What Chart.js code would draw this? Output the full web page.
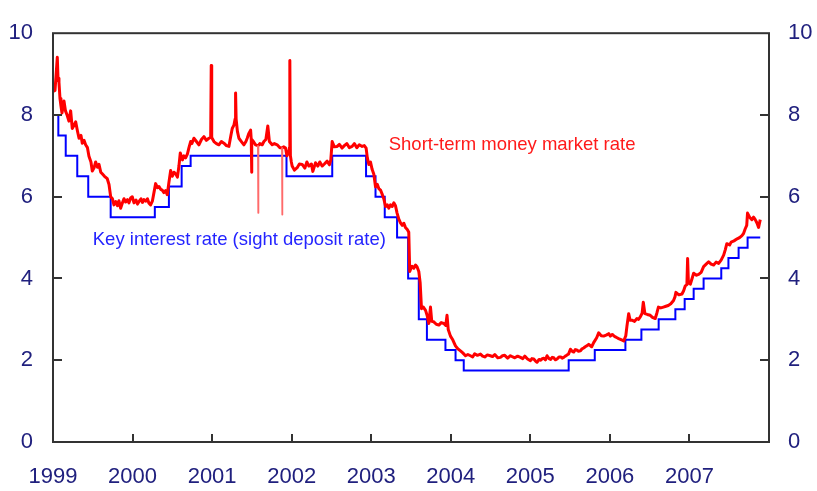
<!DOCTYPE html>
<html>
<head>
<meta charset="utf-8">
<script src="https://cdn.jsdelivr.net/npm/chart.js@4/dist/chart.umd.min.js"></script>
<style>
html,body{margin:0;padding:0;background:#fff;}
#c{display:block;}
</style>
</head>
<body>
<canvas id="c" width="817" height="491"></canvas>
<script>
// ---- Data (decimal years) ----
const yearTicks = [1999, 2000, 2001, 2002, 2003, 2004, 2005, 2006, 2007];
const rateTicks = [0, 2, 4, 6, 8, 10];

// Key interest rate (sight deposit rate): dates of change and new level
const keyDates = [1999.00, 1999.067, 1999.16, 1999.305, 1999.443, 1999.725, 2000.28, 2000.457, 2000.617, 2000.73,
  2001.935, 2002.51, 2002.935, 2003.054, 2003.17, 2003.325, 2003.464, 2003.598, 2003.70, 2003.933, 2004.06, 2004.163,
  2005.482, 2005.81, 2006.195, 2006.396, 2006.613, 2006.823, 2006.94, 2007.053, 2007.178, 2007.40, 2007.49, 2007.618, 2007.731, 2007.89];
const keyRates = [8.0, 7.5, 7.0, 6.5, 6.0, 5.5, 5.75, 6.25, 6.75, 7.0,
  6.5, 7.0, 6.5, 6.0, 5.5, 5.0, 4.0, 3.0, 2.5, 2.25, 2.0, 1.75,
  2.0, 2.25, 2.5, 2.75, 3.0, 3.25, 3.5, 3.75, 4.0, 4.25, 4.5, 4.75, 5.0, 5.0];

// Short-term money market rate
const mmDates = [
 1999.000,1999.013,1999.025,1999.038,1999.054,1999.063,1999.075,1999.088,1999.100,1999.113,
 1999.138,1999.157,1999.180,1999.200,1999.222,1999.242,1999.264,1999.285,1999.308,1999.327,
 1999.352,1999.368,1999.390,1999.410,1999.433,1999.452,1999.477,1999.494,1999.515,1999.536,
 1999.559,1999.578,1999.600,1999.619,1999.647,1999.682,1999.704,1999.725,1999.747,1999.766,
 1999.788,1999.810,1999.829,1999.850,1999.873,1999.892,1999.913,1999.936,1999.955,1999.976,
 1999.996,2000.018,2000.043,2000.062,2000.080,2000.106,2000.124,2000.143,2000.165,2000.187,
 2000.206,2000.227,2000.250,2000.269,2000.290,2000.313,2000.332,2000.353,2000.373,2000.394,
 2000.416,2000.436,2000.457,2000.479,2000.500,2000.520,2000.541,2000.564,2000.583,2000.600,
 2000.627,2000.646,2000.667,2000.690,2000.709,2000.730,2000.746,2000.771,2000.803,2000.834,
 2000.866,2000.897,2000.928,2000.960,2000.982,2000.989,2000.995,2001.023,2001.054,2001.085,
 2001.117,2001.148,2001.180,2001.211,2001.236,2001.253,2001.274,2001.289,2001.295,2001.302,
 2001.318,2001.337,2001.368,2001.400,2001.425,2001.441,2001.462,2001.484,2001.492,2001.496,
 2001.500,2001.519,2001.546,2001.575,2001.579,2001.583,2001.600,2001.630,2001.651,2001.676,
 2001.700,2001.720,2001.755,2001.783,2001.818,2001.852,2001.877,2001.881,2001.884,2001.902,
 2001.923,2001.940,2001.965,2001.972,2001.977,2001.984,2001.996,2002.006,2002.034,2002.069,
 2002.097,2002.132,2002.166,2002.191,2002.216,2002.248,2002.266,2002.300,2002.329,2002.354,
 2002.383,2002.411,2002.446,2002.474,2002.492,2002.509,2002.536,2002.572,2002.600,2002.634,
 2002.662,2002.693,2002.725,2002.760,2002.788,2002.819,2002.850,2002.886,2002.913,2002.936,
 2002.951,2002.970,2002.991,2003.011,2003.033,2003.054,2003.077,2003.095,2003.117,2003.140,
 2003.158,2003.180,2003.202,2003.221,2003.242,2003.263,2003.284,2003.305,2003.325,2003.347,
 2003.368,2003.390,2003.410,2003.430,2003.453,2003.472,2003.484,2003.500,2003.514,2003.535,
 2003.557,2003.577,2003.598,2003.615,2003.632,2003.655,2003.683,2003.702,2003.724,2003.745,
 2003.761,2003.786,2003.818,2003.850,2003.880,2003.912,2003.937,2003.953,2003.968,2003.996,
 2004.025,2004.059,2004.088,2004.122,2004.151,2004.185,2004.215,2004.247,2004.275,2004.300,
 2004.335,2004.373,2004.400,2004.427,2004.460,2004.498,2004.525,2004.553,2004.590,2004.624,
 2004.650,2004.678,2004.715,2004.750,2004.780,2004.804,2004.840,2004.876,2004.905,2004.930,
 2004.965,2005.001,2005.020,2005.043,2005.065,2005.084,2005.110,2005.130,2005.150,2005.168,
 2005.190,2005.210,2005.235,2005.256,2005.275,2005.294,2005.315,2005.336,2005.360,2005.382,
 2005.400,2005.420,2005.440,2005.457,2005.480,2005.504,2005.525,2005.545,2005.565,2005.583,
 2005.605,2005.630,2005.650,2005.670,2005.690,2005.709,2005.734,2005.771,2005.796,2005.834,
 2005.859,2005.891,2005.922,2005.960,2005.985,2006.006,2006.030,2006.048,2006.070,2006.090,
 2006.110,2006.133,2006.155,2006.174,2006.200,2006.214,2006.236,2006.254,2006.277,2006.310,
 2006.340,2006.360,2006.382,2006.405,2006.420,2006.440,2006.470,2006.507,2006.535,2006.570,
 2006.590,2006.610,2006.640,2006.673,2006.704,2006.734,2006.766,2006.800,2006.818,2006.830,
 2006.867,2006.906,2006.927,2006.948,2006.968,2006.977,2006.987,2007.011,2007.033,2007.053,
 2007.084,2007.116,2007.147,2007.178,2007.210,2007.241,2007.272,2007.304,2007.335,2007.367,
 2007.398,2007.430,2007.450,2007.470,2007.505,2007.524,2007.560,2007.600,2007.630,2007.660,
 2007.680,2007.700,2007.720,2007.730,2007.756,2007.785,2007.806,2007.827,2007.850,2007.869,
 2007.890];
const mmRates = [
 8.55,8.75,8.60,8.95,9.41,8.90,8.80,8.40,8.22,8.05,
 8.34,8.10,7.98,7.85,8.10,7.67,7.75,7.83,7.60,7.43,
 7.50,7.31,7.38,7.27,7.20,6.99,6.85,6.63,6.70,6.85,
 6.72,6.79,6.60,6.56,6.50,6.44,6.30,6.00,5.95,5.80,
 5.88,5.78,5.90,5.72,5.85,5.95,5.87,5.93,5.85,5.97,
 6.00,5.85,5.92,5.82,5.88,5.95,5.86,5.93,5.89,5.95,
 5.84,5.80,5.90,6.10,6.32,6.22,6.25,6.18,6.16,6.10,
 6.15,6.05,6.35,6.64,6.50,6.60,6.56,6.48,6.75,7.07,
 6.90,7.00,6.95,7.05,7.20,7.35,7.30,7.43,7.35,7.27,
 7.40,7.47,7.38,7.43,7.45,9.21,7.45,7.35,7.30,7.27,
 7.35,7.31,7.25,7.23,7.50,7.67,7.75,7.90,8.54,7.90,
 7.60,7.43,7.35,7.27,7.35,7.43,7.55,7.63,7.40,6.60,
 7.40,7.35,7.27,7.25,5.60,7.25,7.30,7.27,7.35,7.40,
 7.73,7.35,7.27,7.30,7.27,7.20,7.20,5.56,7.20,7.22,
 7.19,7.00,7.10,7.20,9.33,7.00,6.85,6.75,6.65,6.71,
 6.80,6.79,6.70,6.85,6.75,6.80,6.62,6.83,6.75,6.85,
 6.75,6.80,6.87,6.78,6.90,7.35,7.22,7.23,7.28,7.19,
 7.25,7.30,7.20,7.23,7.30,7.20,7.27,7.23,7.25,7.19,
 6.95,6.79,6.85,6.67,6.55,6.24,6.30,6.20,6.16,6.05,
 5.95,5.76,5.80,5.72,5.80,5.76,5.85,5.78,5.60,5.45,
 5.36,5.30,5.35,5.25,5.20,5.13,4.17,4.25,4.30,4.25,
 4.33,4.28,4.17,3.90,3.26,3.30,3.22,3.10,2.90,3.30,
 2.95,2.94,2.88,2.86,2.92,2.90,2.85,3.10,2.75,2.59,
 2.50,2.35,2.28,2.23,2.18,2.11,2.14,2.11,2.08,2.16,
 2.12,2.15,2.10,2.08,2.13,2.11,2.09,2.14,2.06,2.07,
 2.11,2.12,2.05,2.11,2.08,2.06,2.10,2.07,2.04,2.10,
 2.03,1.99,2.04,2.03,1.98,1.95,2.02,2.00,2.04,2.05,
 2.01,2.11,2.04,2.02,2.07,2.06,2.01,2.03,2.08,2.08,
 2.05,2.07,2.10,2.12,2.15,2.27,2.22,2.20,2.26,2.25,
 2.22,2.23,2.28,2.30,2.33,2.35,2.39,2.33,2.43,2.55,
 2.67,2.60,2.59,2.62,2.65,2.59,2.63,2.60,2.57,2.55,
 2.53,2.51,2.49,2.47,2.60,2.83,3.14,2.98,2.98,2.95,
 3.02,3.00,3.06,3.15,3.42,3.14,3.12,3.10,3.05,3.02,
 3.15,3.30,3.28,3.30,3.32,3.34,3.38,3.46,3.55,3.66,
 3.60,3.62,3.70,3.82,3.85,4.49,3.90,3.86,4.00,4.13,
 4.08,4.10,4.15,4.29,4.35,4.41,4.35,4.33,4.40,4.37,
 4.45,4.57,4.70,4.85,4.82,4.89,4.92,4.97,5.00,5.05,
 5.10,5.21,5.30,5.60,5.50,5.44,5.50,5.44,5.35,5.25,
 5.44];

const mmLabel = 'Short-term money market rate';
const keyLabel = 'Key interest rate (sight deposit rate)';

// ---- Chart ----
const tickFont = { family: '"Liberation Sans", Arial, sans-serif', size: 22 };
const tickColor = '#20207e';
const frameColor = '#333333';

const decor = {
  id: 'decor',
  afterDatasetsDraw(chart) {
    const { ctx, chartArea: a, scales } = chart;
    const x = scales.x, y = scales.y;
    ctx.save();
    ctx.strokeStyle = frameColor;
    ctx.lineWidth = 2;
    ctx.strokeRect(a.left, a.top, a.right - a.left, a.bottom - a.top);
    ctx.beginPath();
    yearTicks.forEach(v => {
      if (v === x.min) return;
      const px = Math.round(x.getPixelForValue(v));
      ctx.moveTo(px, a.bottom);
      ctx.lineTo(px, a.bottom - 8);
    });
    rateTicks.forEach(v => {
      if (v === y.min || v === y.max) return;
      const py = Math.round(y.getPixelForValue(v));
      ctx.moveTo(a.left, py); ctx.lineTo(a.left + 9, py);
      ctx.moveTo(a.right, py); ctx.lineTo(a.right - 9, py);
    });
    ctx.stroke();
    // series labels
    ctx.font = '18.5px "Liberation Sans", Arial, sans-serif';
    ctx.textBaseline = 'alphabetic';
    ctx.textAlign = 'left';
    ctx.fillStyle = '#ff1a1a';
    ctx.fillText(mmLabel, x.getPixelForValue(2003.22), y.getPixelForValue(7.14));
    ctx.fillStyle = '#2424ff';
    ctx.fillText(keyLabel, x.getPixelForValue(1999.5), y.getPixelForValue(4.81));
    ctx.restore();
  }
};

const isThinSpike = c => {
  const a = c.p0.parsed.y, b = c.p1.parsed.y;
  return Math.abs(b - a) > 1.2 && Math.max(a, b) < 8 && Math.min(a, b) < 6;
};

new Chart(document.getElementById('c'), {
  type: 'line',
  data: {
    datasets: [
      {
        label: mmLabel,
        data: mmDates.map((d, i) => ({ x: d, y: mmRates[i] })),
        borderColor: '#ff0000',
        borderWidth: 3,
        borderJoinStyle: 'round',
        pointRadius: 0,
        tension: 0,
        order: 0,
        segment: {
          borderWidth: c => isThinSpike(c) ? 1.6 : undefined,
          borderColor: c => isThinSpike(c) ? '#ff6a6a' : undefined
        }
      },
      {
        label: keyLabel,
        data: keyDates.map((d, i) => ({ x: d, y: keyRates[i] })),
        borderColor: '#0000ff',
        borderWidth: 2,
        pointRadius: 0,
        stepped: 'before',
        order: 1
      }
    ]
  },
  options: {
    responsive: false,
    animation: false,
    layout: { padding: { top: 22, left: 0, right: 0, bottom: 0 } },
    plugins: { legend: { display: false }, tooltip: { enabled: false } },
    scales: {
      x: {
        type: 'linear', position: 'bottom', min: 1999, max: 2008,
        grid: { display: false, drawTicks: false }, border: { display: false },
        afterBuildTicks: s => { s.ticks = yearTicks.map(v => ({ value: v })); },
        afterFit: s => { s.height = 49; },
        ticks: { font: tickFont, color: tickColor, padding: 22, autoSkip: false, maxRotation: 0, callback: v => String(v) }
      },
      y: {
        position: 'left', min: 0, max: 10,
        grid: { display: false, drawTicks: false }, border: { display: false },
        afterBuildTicks: s => { s.ticks = rateTicks.map(v => ({ value: v })); },
        afterFit: s => { s.width = 53; },
        ticks: { font: tickFont, color: tickColor, padding: 20 }
      },
      y2: {
        position: 'right', min: 0, max: 10,
        grid: { display: false, drawTicks: false }, border: { display: false },
        afterBuildTicks: s => { s.ticks = rateTicks.map(v => ({ value: v })); },
        afterFit: s => { s.width = 48; },
        ticks: { font: tickFont, color: tickColor, padding: 19 }
      }
    }
  },
  plugins: [decor]
});
</script>
</body>
</html>
